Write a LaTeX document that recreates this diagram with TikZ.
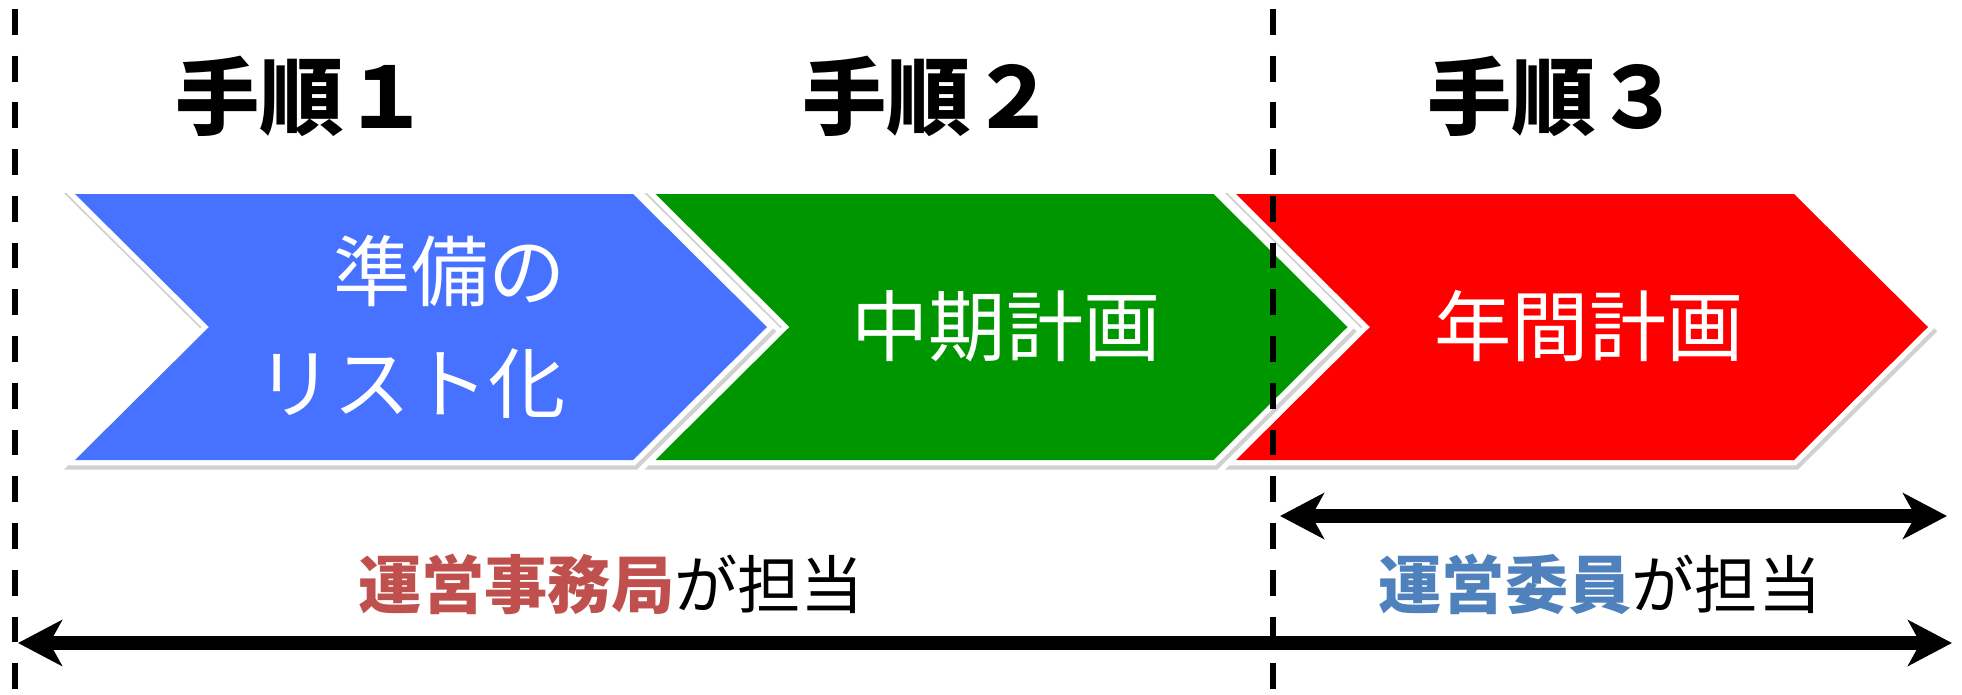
\documentclass[tikz,border=0pt]{standalone}
\usepackage{fontspec}
\setmainfont{Noto Sans CJK JP}
\usetikzlibrary{arrows.meta}
\usetikzlibrary{positioning}

\definecolor{stepblue}{RGB}{70,114,255}
\definecolor{stepgreen}{RGB}{0,150,0}
\definecolor{stepred}{RGB}{255,0,0}
\definecolor{officered}{RGB}{192,80,77}
\definecolor{memberblue}{RGB}{79,129,189}

\begin{document}
\begin{tikzpicture}[
	x=0.02cm, y=-0.02cm,
  > = {Stealth[length=25pt,width=26pt,inset=7pt]},
  chevron/.style = {fill=#1,
    preaction={fill=black!18, draw=black!18, line width=6pt, line join=miter, transform canvas={shift={(1pt,-2.5pt)}}},
    preaction={draw=white, line width=6pt, line join=miter}},
  steptitle/.style = {font=\fontsize{48}{52}\selectfont\bfseries},
  steptext/.style = {text=white, font=\fontsize{44}{64}\selectfont},
  dutytext/.style = {font=\fontsize{36}{40}\selectfont},
  divider/.style = {line width=3.8pt, dash pattern=on 14.7pt off 11.9pt, dash phase=21.5pt},
  span/.style = {line width=8pt, <->}
  ]
	\path[use as bounding box, fill=white] (0,0) rectangle (1962,694);

	\coordinate (@1) at (15,0);
	\coordinate (@2) at (15,694);
	\coordinate (@3) at (1273,0);
	\coordinate (@4) at (1273,694);
	\coordinate (@5) at (1280,516);
	\coordinate (@6) at (1947,516);
	\coordinate (@7) at (18,643);
	\coordinate (@8) at (1952,643);

	% the three steps
	\foreach \c/\x in {stepblue/75, stepgreen/655.5, stepred/1236}
		\path[chevron=\c] (\x,194) -- ++(558,0) -- ++(134,133) -- ++(-134,133) -- ++(-558,0) -- ++(134,-133) -- cycle;

	\node[steptitle] (t1) at (302,96) {手順１};
	\node[steptitle] (t2) at (929,96) {手順２};
	\node[steptitle] (t3) at (1554,96) {手順３};

	\node[steptext, align=right] (s1) at (411,327) {準備の\\リスト化};
	\node[steptext] (s2) at (1006,326) {中期計画};
	\node[steptext] (s3) at (1589,326) {年間計画};

	\draw[divider] (@1) to (@2);
	\draw[divider] (@3) to (@4);

	\draw[span] (@5) to (@6);
	\draw[span] (@7) to (@8);

	\node[dutytext] (d1) at (611,584) {\textcolor{officered}{\bfseries 運営事務局}が担当};
	\node[dutytext] (d2) at (1600,584) {\textcolor{memberblue}{\bfseries 運営委員}が担当};

\end{tikzpicture}
\end{document}
